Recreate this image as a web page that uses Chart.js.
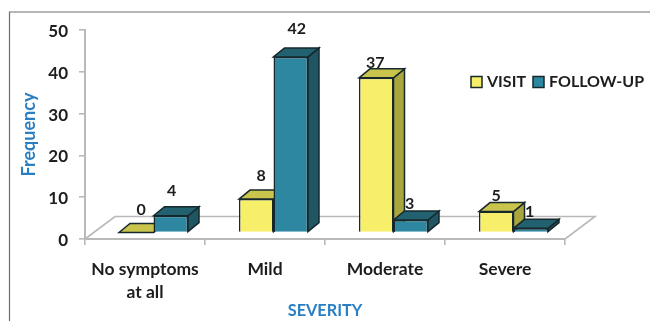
<!DOCTYPE html>
<html>
<head>
<meta charset="utf-8">
<style>html,body{margin:0;padding:0;background:#fff}canvas{display:block}</style>
<script src="https://cdn.jsdelivr.net/npm/chart.js@4/dist/chart.umd.js"></script>
</head>
<body>
<canvas id="c" width="650" height="321"></canvas>
<script>
const categories = [["No symptoms", "at all"], "Mild", "Moderate", "Severe"];
const visit = [0, 8, 37, 5];
const followUp = [4, 42, 3, 1];
const yTicks = [0, 10, 20, 30, 40, 50];

// Per-series value label nudges, relative to the top of each bar's front face
const visitNudge = [[5, -23], [5, -23], [-1, -15], [0, -16]];
const followNudge = [[1, -25], [6, -28], [-1, -16], [-1, -16]];

const AXIS = "#b9b9b9", INK = "#1d1d1d", BLUE = "#2a7fc4", EDGE = "#16282c";
const FONT = "Lato, Carlito, sans-serif";
const DEPTH_X = 11, DEPTH_Y = 9;       // bar extrusion
const FLOOR_X = 30, FLOOR_Y = 22.5;    // floor extrusion
const SHIFT_X = 8.5, SHIFT_Y = -6.5;   // bars stand inside the floor

const shades = [
  {front: "#f7ef6a", top: "#c9c44c", side: "#a9a63e"},
  {front: "#2d87a1", top: "#22616f", side: "#205663"}
];

function poly(ctx, pts, fill) {
  ctx.beginPath();
  pts.forEach((p, i) => i ? ctx.lineTo(p[0], p[1]) : ctx.moveTo(p[0], p[1]));
  ctx.closePath();
  ctx.fillStyle = fill;
  ctx.fill();
  ctx.lineWidth = 1.5;
  ctx.strokeStyle = EDGE;
  ctx.stroke();
}

const scene = {
  id: "scene",
  beforeDraw(chart) {
    const {ctx, chartArea: a} = chart;
    ctx.save();
    // outer frame
    ctx.strokeStyle = "#6f6f6f";
    ctx.lineWidth = 1.2;
    ctx.beginPath();
    ctx.moveTo(9.5, 321);
    ctx.lineTo(9.5, 12);
    ctx.lineTo(650, 12);
    ctx.stroke();
    // receding floor
    ctx.strokeStyle = AXIS;
    ctx.lineWidth = 1.6;
    ctx.beginPath();
    ctx.moveTo(a.left, a.bottom);
    ctx.lineTo(a.left + FLOOR_X, a.bottom - FLOOR_Y);
    ctx.lineTo(a.right + FLOOR_X, a.bottom - FLOOR_Y);
    ctx.lineTo(a.right, a.bottom);
    ctx.stroke();
    ctx.restore();
  },
  beforeDatasetsDraw(chart) {
    const {ctx} = chart;
    ctx.save();
    ctx.translate(SHIFT_X, SHIFT_Y);
    // tops and sides first, so the front faces sit over them
    chart.data.datasets.forEach((ds, d) => {
      chart.getDatasetMeta(d).data.forEach(bar => {
        const p = bar.getProps(["x", "y", "base", "width"], true);
        const l = p.x - p.width / 2, r = p.x + p.width / 2;
        poly(ctx, [[r, p.y], [r + DEPTH_X, p.y - DEPTH_Y], [r + DEPTH_X, p.base - DEPTH_Y], [r, p.base]], shades[d].side);
        poly(ctx, [[l, p.y], [l + DEPTH_X, p.y - DEPTH_Y], [r + DEPTH_X, p.y - DEPTH_Y], [r, p.y]], shades[d].top);
      });
    });
  },
  afterDatasetsDraw(chart) {
    const {ctx} = chart;
    ctx.restore();
    // value labels
    ctx.save();
    ctx.font = "bold 16px " + FONT;
    ctx.fillStyle = INK;
    ctx.textAlign = "center";
    ctx.textBaseline = "middle";
    const nudges = [visitNudge, followNudge];
    chart.data.datasets.forEach((ds, d) => {
      chart.getDatasetMeta(d).data.forEach((bar, i) => {
        const p = bar.getProps(["x", "y"], true);
        ctx.fillText(String(ds.data[i]), p.x + SHIFT_X + nudges[d][i][0], p.y + SHIFT_Y + nudges[d][i][1]);
      });
    });
    // legend, built from the dataset names
    ctx.textAlign = "left";
    ctx.font = "bold 16px " + FONT;
    const slots = [[471, 487], [533, 549]];
    chart.data.datasets.forEach((ds, d) => {
      ctx.fillStyle = shades[d].front;
      ctx.strokeStyle = EDGE;
      ctx.lineWidth = 1.5;
      ctx.fillRect(slots[d][0], 76.5, 11, 11);
      ctx.strokeRect(slots[d][0], 76.5, 11, 11);
      ctx.fillStyle = INK;
      ctx.fillText(ds.label, slots[d][1], 82);
    });
    ctx.restore();
  }
};

new Chart(document.getElementById("c"), {
  type: "bar",
  data: {
    labels: categories,
    datasets: [
      {label: "VISIT", data: visit, backgroundColor: shades[0].front, borderColor: EDGE, borderWidth: 1.5},
      {label: "FOLLOW-UP", data: followUp, backgroundColor: shades[1].front, borderColor: EDGE, borderWidth: 1.5}
    ]
  },
  plugins: [scene],
  options: {
    responsive: false,
    animation: false,
    events: [],
    layout: {padding: {top: 30, right: 85, left: 0, bottom: 0}},
    plugins: {legend: {display: false}, tooltip: {enabled: false}},
    datasets: {bar: {categoryPercentage: 0.575, barPercentage: 1}},
    scales: {
      x: {
        afterFit(s) { s.height = 82; },
        border: {color: AXIS, width: 2},
        grid: {drawOnChartArea: false, color: AXIS, lineWidth: 1.6, tickLength: 6},
        ticks: {color: INK, padding: 13, maxRotation: 0, autoSkip: false, font: {family: FONT, size: 17.5, weight: "bold", lineHeight: 1.32}},
        title: {display: true, text: "SEVERITY", color: BLUE, padding: {top: 0, bottom: 0}, font: {family: FONT, size: 16.3, weight: "bold"}}
      },
      y: {
        min: 0,
        max: 50,
        afterFit(s) { s.width = 85; },
        afterBuildTicks(s) { s.ticks = yTicks.map(v => ({value: v})); },
        border: {color: AXIS, width: 2},
        grid: {drawOnChartArea: false, color: AXIS, lineWidth: 1.6, tickLength: 6},
        ticks: {color: INK, padding: 11, labelOffset: 1.5, font: {family: FONT, size: 17, weight: "bold"}},
        title: {display: true, text: "Frequency", color: BLUE, padding: {top: 18, bottom: 0}, font: {family: FONT, size: 18, weight: "bold"}}
      }
    }
  }
});
</script>
</body>
</html>
